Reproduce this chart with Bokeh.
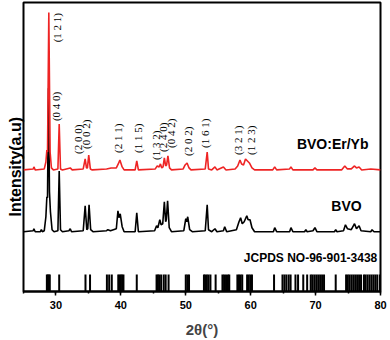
import numpy as np
from bokeh.plotting import figure
from bokeh.models import Range1d, SingleIntervalTicker, Label, ColumnDataSource, Title
from bokeh.core.properties import value
from bokeh.embed import file_html
from bokeh.resources import INLINE

# ---- data (y = arbitrary intensity with offsets) ----
red_x = [25.0, 26.5, 26.6, 26.8, 28.2, 28.45, 28.6, 28.7, 28.9, 29.1, 29.3, 29.6,
         30.3, 30.5, 30.7, 31.0, 32.2, 32.5, 34.2, 34.5, 34.7, 34.85, 35.05, 35.3, 35.6,
         37.8, 38.5, 39.3, 39.6, 39.85, 40.2, 40.5, 42.2, 42.45, 42.7,
         45.3, 45.6, 45.9, 46.1, 46.3, 46.5, 46.7, 46.9, 47.05, 47.25, 47.5, 47.8,
         49.6, 49.9, 50.2, 50.5, 50.8, 53.0, 53.3, 53.5, 54.0, 54.5, 54.8, 55.8, 56.2,
         57.6, 58.0, 58.35, 58.6, 58.9, 59.2, 59.5, 59.8, 60.2, 60.6,
         63.4, 63.7, 64.0, 66.0, 66.2, 66.5, 69.6, 69.9, 70.2,
         74.0, 74.5, 74.9, 75.5, 76.0, 76.3, 76.7, 77.1, 78.5, 80.0]
red_y = [122, 123, 125, 122, 123, 130, 142, 140, 280, 140, 124, 122,
         123, 168, 123, 122, 124, 122, 123, 133, 124, 124, 137, 123, 122,
         123, 124, 124, 128, 132, 125, 122, 122, 131, 122,
         123, 126, 125, 128, 124, 125, 134, 126, 127, 136, 124, 122,
         123, 127, 129, 124, 122, 123, 140, 123, 122, 125, 122, 125, 122,
         123, 126, 132, 128, 127, 133, 131, 129, 124, 122,
         122, 125, 122, 123, 125, 122, 122, 124, 122,
         122, 126, 123, 123, 126, 124, 125, 122, 123, 122]

black_x = [25.0, 26.5, 26.6, 26.8, 27.6, 27.75, 27.9, 28.2, 28.45, 28.6, 28.7, 28.85,
           29.0, 29.15, 29.4, 29.7, 30.3, 30.5, 30.7, 31.0, 32.0, 32.2, 32.4,
           34.2, 34.5, 34.75, 34.9, 35.1, 35.35, 35.7, 37.8, 38.0, 38.4,
           39.3, 39.55, 39.7, 39.9, 40.2, 40.5, 42.2, 42.45, 42.7,
           45.2, 45.5, 45.7, 46.0, 46.2, 46.45, 46.7, 46.9, 47.0, 47.2, 47.45, 47.8,
           49.7, 50.0, 50.15, 50.3, 50.6, 51.0, 53.0, 53.3, 53.5, 54.0, 54.5, 54.8,
           55.8, 56.0, 56.3, 57.8, 58.2, 58.45, 58.7, 59.0, 59.4, 59.6, 59.9, 60.2, 60.6,
           63.5, 63.7, 64.0, 66.0, 66.2, 66.5, 68.3, 68.5, 68.7, 69.6, 69.9, 70.2,
           72.9, 73.1, 73.3, 74.3, 74.6, 74.9, 75.5, 76.0, 76.3, 76.7, 77.0,
           78.5, 78.7, 79.0, 80.0]
black_y = [60, 61, 63, 60, 60, 62, 60, 61, 75, 95, 94, 204,
           100, 80, 62, 60, 61, 121, 62, 60, 61, 63, 60,
           61, 86, 62, 63, 87, 62, 60, 61, 62, 61,
           63, 81, 74, 78, 65, 60, 60, 79, 60,
           61, 66, 64, 72, 67, 68, 90, 70, 72, 91, 64, 60,
           61, 73, 70, 75, 62, 60, 61, 87, 62, 60, 63, 60,
           61, 65, 60, 62, 70, 74, 68, 70, 76, 72, 72, 64, 60,
           60, 64, 60, 60, 64, 60, 60, 62, 60, 61, 64, 60,
           60, 62, 60, 61, 67, 63, 62, 68, 63, 66, 61,
           60, 62, 60, 60]

stick_x = [28.6, 28.75, 28.9, 29.05, 30.5, 34.55, 35.25, 37.85, 38.2, 38.6,
           39.6, 39.8, 40.0, 40.2, 40.4, 42.45, 45.5, 45.7, 45.9, 46.2, 46.6, 46.9,
           47.35, 50.0, 50.25, 50.5, 52.8, 53.0, 53.25, 53.5, 53.8, 54.6,
           55.65, 55.9, 56.2, 56.5, 56.7, 57.95, 58.2, 58.45, 58.7,
           59.45, 59.7, 59.95, 60.2, 63.6, 64.9, 65.2, 65.5, 65.85, 66.15,
           66.9, 67.3, 68.1, 68.7, 69.25, 69.5, 69.8, 70.1, 70.4, 70.7, 71.0, 71.3,
           73.1, 74.7, 74.95, 75.2, 75.5, 75.8, 76.1, 76.4, 76.7, 77.0,
           77.45, 77.7, 78.0, 78.3, 78.6, 78.9, 79.2, 79.5, 79.9]
stick_h = [17] * len(stick_x)

hkl_text = ["(1 2 1)", "(0 4 0)", "(2 0 0)", "(0 0 2)", "(2 1 1)", "(1 1 5)",
            "(1 3 2)", "(2 4 0)", "(0 4 2)", "(2 0 2)", "(1 6 1)", "(3 2 1)", "(1 2 3)"]
hkl_x = [30.2, 30.05, 33.4, 34.7, 39.6, 42.65, 45.4, 46.45, 47.75, 50.3, 53.0, 58.05, 60.0]
hkl_y = [250, 171, 138, 143, 139, 139, 132, 140, 144, 136, 144, 137, 137]

x_ticks = [30, 40, 50, 60, 70, 80]

# ---- figure ----
p = figure(width=388, height=340, output_backend="svg", toolbar_location=None,
           x_range=Range1d(25, 80), y_range=Range1d(0, 290),
           min_border_left=23, min_border_right=8, min_border_top=2, min_border_bottom=48)
p.background_fill_color = "white"
p.border_fill_color = "white"
p.xgrid.visible = False
p.ygrid.visible = False
p.yaxis.visible = False
p.outline_line_color = "black"
p.outline_line_width = 2

p.xaxis.ticker = SingleIntervalTicker(interval=10, num_minor_ticks=2)
p.xaxis.axis_line_width = 2
p.xaxis.major_tick_line_width = 1.5
p.xaxis.major_tick_out = 4
p.xaxis.major_tick_in = 0
p.xaxis.minor_tick_out = 2
p.xaxis.minor_tick_in = 0
p.xaxis.minor_tick_line_width = 1.5
p.xaxis.major_label_text_font = "Liberation Sans"
p.xaxis.major_label_text_font_style = "bold"
p.xaxis.major_label_text_font_size = "11px"
p.xaxis.major_label_text_color = "black"
p.xaxis.major_label_standoff = 5
p.xaxis.axis_label = "2θ(°)"
p.xaxis.axis_label_text_font = "Liberation Sans"
p.xaxis.axis_label_text_font_style = "bold"
p.xaxis.axis_label_text_font_size = "15px"
p.xaxis.axis_label_standoff = 9

p.segment(x0=stick_x, y0=[0] * len(stick_x), x1=stick_x, y1=stick_h,
          line_color="black", line_width=2)
p.line(black_x, black_y, line_color="black", line_width=1.6)
p.line(red_x, red_y, line_color="#ee2424", line_width=1.6)

src = ColumnDataSource(dict(x=hkl_x, y=hkl_y, t=hkl_text))
p.text(x="x", y="y", text="t", source=src, angle=np.pi / 2,
       text_align="left", text_baseline="middle",
       text_font=value("Liberation Serif"), text_font_size="11px", text_color="black")

for txt, xx, yy, fs in [("BVO:Er/Yb", 78.15, 148, "14px"),
                        ("BVO", 77.1, 86, "14px"),
                        ("JCPDS NO-96-901-3438", 79.5, 34, "12px")]:
    p.add_layout(Label(x=xx, y=yy, text=txt, text_align="right", text_baseline="middle",
                       text_font="Liberation Sans", text_font_style="bold",
                       text_font_size=fs, text_color="black"))

ytitle = Title(text="Intensity(a.u)", align="left", offset=75, standoff=0,
               text_font="Liberation Sans", text_font_style="bold",
               text_font_size="16px", text_color="black")
p.add_layout(ytitle, "left")

open("out.html", "w").write(file_html(p, INLINE))
